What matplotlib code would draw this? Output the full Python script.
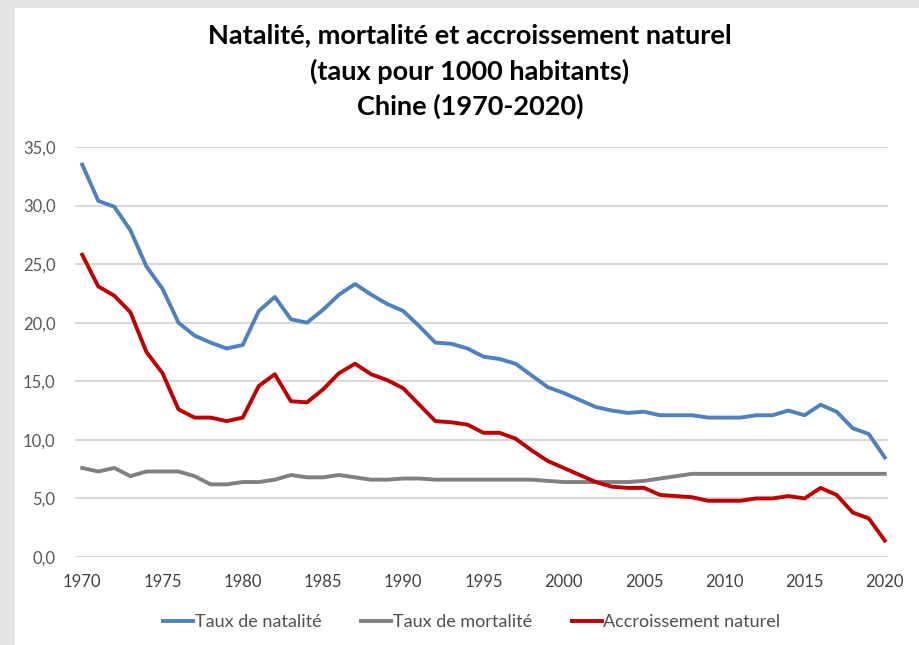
import numpy as np
import matplotlib.pyplot as plt
from matplotlib.patches import Rectangle

annees = list(range(1970, 2021))

natalite = [33.5, 30.4, 29.9, 27.9, 24.8, 22.9, 20.0, 18.9, 18.3, 17.8,
            18.1, 21.0, 22.2, 20.3, 20.0, 21.1, 22.4, 23.3, 22.4, 21.6,
            21.0, 19.7, 18.3, 18.2, 17.8, 17.1, 16.9, 16.5, 15.5, 14.5,
            14.0, 13.4, 12.8, 12.5, 12.3, 12.4, 12.1, 12.1, 12.1, 11.9,
            11.9, 11.9, 12.1, 12.1, 12.5, 12.1, 13.0, 12.4, 11.0, 10.5,
            8.5]

mortalite = [7.6, 7.3, 7.6, 6.9, 7.3, 7.3, 7.3, 6.9, 6.2, 6.2,
             6.4, 6.4, 6.6, 7.0, 6.8, 6.8, 7.0, 6.8, 6.6, 6.6,
             6.7, 6.7, 6.6, 6.6, 6.6, 6.6, 6.6, 6.6, 6.6, 6.5,
             6.4, 6.4, 6.4, 6.4, 6.4, 6.5, 6.7, 6.9, 7.1, 7.1,
             7.1, 7.1, 7.1, 7.1, 7.1, 7.1, 7.1, 7.1, 7.1, 7.1,
             7.1]

accroissement = [25.8, 23.1, 22.3, 20.9, 17.5, 15.7, 12.6, 11.9, 11.9, 11.6,
                 11.9, 14.6, 15.6, 13.3, 13.2, 14.3, 15.7, 16.5, 15.6, 15.1,
                 14.4, 13.0, 11.6, 11.5, 11.3, 10.6, 10.6, 10.1, 9.1, 8.2,
                 7.6, 7.0, 6.4, 6.0, 5.9, 5.9, 5.3, 5.2, 5.1, 4.8,
                 4.8, 4.8, 5.0, 5.0, 5.2, 5.0, 5.9, 5.3, 3.8, 3.3,
                 1.4]

labels = ['Taux de natalité', 'Taux de mortalité', 'Accroissement naturel']
couleurs = ['#4F81BD', '#808080', '#C00000']
titre = ['Natalité, mortalité et accroissement naturel',
         '(taux pour 1000 habitants)',
         'Chine (1970-2020)']
titre_y = [35, 71, 106]  # centre de chaque ligne, en pixels depuis le haut

plt.rcParams['font.family'] = ['Lato', 'DejaVu Sans']

fig = plt.figure(figsize=(9.2, 6.45), dpi=100)
fig.patch.set_facecolor('#e4e4e4')
fig.patches.append(Rectangle((15/920, 0), 1, 1 - 8/645, transform=fig.transFigure,
                             facecolor='white', edgecolor='none', zorder=-10))

ax = fig.add_axes([75/920, 1 - 557/645, (888 - 75)/920, (557 - 147)/645])
ax.set_facecolor('white')

for serie, lab, c in zip([natalite, mortalite, accroissement], labels, couleurs):
    ax.plot(annees, serie, color=c, lw=2.8, label=lab, solid_joinstyle='round')

ax.set_xlim(1969.55, 2020.2)
ax.set_ylim(0, 35)
ax.set_yticks(np.arange(0, 36, 5))
ax.set_yticklabels([f'{v:.1f}'.replace('.', ',') for v in np.arange(0, 36, 5)])
ax.set_xticks(range(1970, 2021, 5))
ax.grid(axis='y', color='#d9d9d9', lw=1.5)
ax.set_axisbelow(True)
for s in ax.spines.values():
    s.set_visible(False)
ax.tick_params(axis='y', length=0, pad=14, labelsize=12, labelcolor='#595959')
ax.tick_params(axis='x', length=0, pad=12, labelsize=12, labelcolor='#404040')

for ligne, yy in zip(titre, titre_y):
    fig.text(470/920, 1 - yy/645, ligne, ha='center', va='center', fontsize=19.5,
             fontweight='bold', color='black')

fig.legend(loc='center', bbox_to_anchor=(472/920, 1 - 622/645), ncol=3, frameon=False,
           fontsize=13, handlelength=1.65, handletextpad=0.1, columnspacing=2.2,
           labelcolor='#505050')

fig.savefig('out.png', dpi=100, facecolor=fig.get_facecolor())
